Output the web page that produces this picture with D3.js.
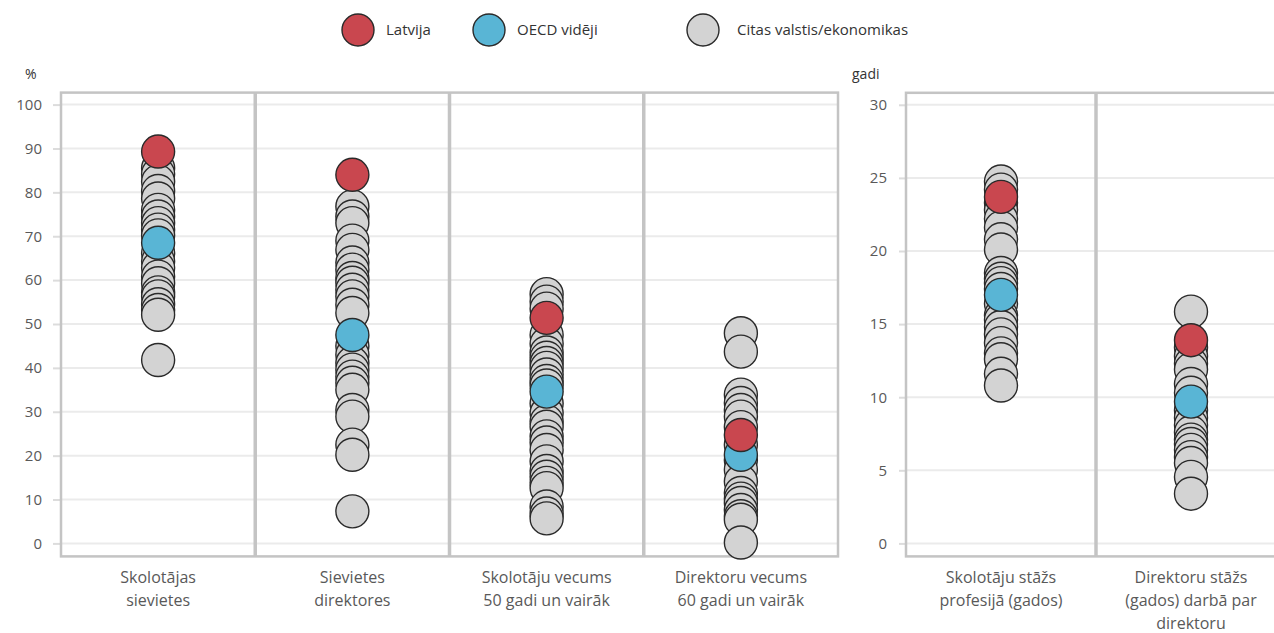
<!DOCTYPE html>
<html>
<head>
<meta charset="utf-8">
<script src="https://cdn.jsdelivr.net/npm/d3@7"></script>
<style>
  html, body { margin: 0; padding: 0; background: #fff; }
  svg { display: block; font-family: "Open Sans", "Noto Sans", sans-serif; }
</style>
</head>
<body>
<svg id="chart" width="1274" height="633"></svg>
<script>
// ---------- DATA ----------
const leftCategories = [
  ["Skolotājas", "sievietes"],
  ["Sievietes", "direktores"],
  ["Skolotāju vecums", "50 gadi un vairāk"],
  ["Direktoru vecums", "60 gadi un vairāk"]
];
const rightCategories = [
  ["Skolotāju stāžs", "profesijā (gados)"],
  ["Direktoru stāžs", "(gados) darbā par", "direktoru"]
];
const leftTicks = [0, 10, 20, 30, 40, 50, 60, 70, 80, 90, 100];
const rightTicks = [0, 5, 10, 15, 20, 25, 30];
const leftUnit = "%";
const rightUnit = "gadi";
const legendLabels = ["Latvija", "OECD vidēji", "Citas valstis/ekonomikas"];

const latviaLeft = [89.3, 84.0, 51.4, 24.7];
const oecdLeft = [68.5, 47.5, 34.6, 20.2];
const latviaRight = [23.7, 13.9];
const oecdRight = [17.0, 9.7];

const othersFemaleTeachers = [85.5, 84.2, 82.5, 80.3, 78.6, 76.0, 74.5, 73.0, 71.5, 70.2, 66.2, 64.3, 62.8, 60.8, 59.3, 57.2, 56.3, 54.5, 53.2, 52.1, 41.8];
const othersFemalePrincipals = [76.8, 74.5, 73.0, 69.0, 66.9, 64.0, 62.4, 60.5, 59.4, 57.8, 56.3, 54.4, 52.5, 45.0, 43.0, 41.1, 39.6, 38.0, 36.6, 35.0, 30.4, 28.9, 22.5, 20.2, 7.3];
const othersTeachers50 = [56.8, 55.1, 53.5, 47.5, 45.5, 43.5, 42.3, 41.1, 40.0, 38.5, 37.0, 36.0, 31.9, 29.7, 27.8, 26.6, 24.4, 23.0, 21.3, 18.7, 16.5, 15.2, 13.8, 12.6, 8.4, 6.8, 5.7];
const othersPrincipals60 = [47.9, 43.7, 33.9, 32.0, 30.4, 28.9, 26.5, 22.5, 19.0, 16.8, 14.1, 11.5, 10.2, 9.2, 7.6, 6.2, 5.4, 0.2];
const othersTeacherExp = [24.75, 24.2, 23.3, 22.8, 22.2, 21.6, 20.8, 20.1, 18.5, 18.1, 17.8, 17.4, 16.4, 15.6, 15.3, 14.8, 14.3, 13.7, 13.0, 12.6, 11.6, 10.8];
const othersPrincipalExp = [15.85, 13.4, 12.8, 12.3, 11.9, 10.9, 10.3, 9.1, 8.6, 8.1, 7.6, 7.1, 6.8, 6.4, 5.9, 5.5, 4.55, 3.4];

const othersLeft = [othersFemaleTeachers, othersFemalePrincipals, othersTeachers50, othersPrincipals60];
const othersRight = [othersTeacherExp, othersPrincipalExp];

// ---------- STYLE ----------
const COL_LV = "#c9474f";
const COL_OECD = "#59b5d5";
const COL_OTHER = "#d3d3d3";
const COL_STROKE = "#2a2a2a";
const COL_FRAME = "#c4c4c4";
const COL_GRID = "#ebebeb";
const COL_TEXT = "#595959";
const R = 16.5;

const svg = d3.select("#chart");

function drawChart(cfg) {
  const g = svg.append("g");
  const y = d3.scaleLinear().domain(cfg.domain).range([cfg.y0, cfg.yTop]);
  const x = d3.scaleBand().domain(cfg.categories.map((d, i) => i)).range([cfg.x0, cfg.x1]).padding(0);
  const frameTop = y(cfg.domain[1]) - 12;
  const frameBottom = y(cfg.domain[0]) + 13;

  // gridlines
  g.append("g").selectAll("line").data(cfg.ticks).join("line")
    .attr("x1", cfg.x0).attr("x2", cfg.x1)
    .attr("y1", d => y(d)).attr("y2", d => y(d))
    .attr("stroke", COL_GRID).attr("stroke-width", 2);

  // axis
  const ax = g.append("g").attr("transform", `translate(${cfg.x0},0)`)
    .call(d3.axisLeft(y).tickValues(cfg.ticks).tickSize(cfg.tickSize).tickPadding(cfg.tickPadding));
  ax.select(".domain").remove();
  ax.selectAll(".tick line").attr("stroke", "#dcdcdc").attr("stroke-width", 2);
  ax.selectAll(".tick text").attr("fill", COL_TEXT).style("font-size", "15px")
    .style("font-family", "'Open Sans', sans-serif");

  // unit label
  g.append("text").attr("x", cfg.unitX).attr("y", 79).text(cfg.unit)
    .attr("fill", "#333").style("font-size", "14px");

  // frame
  g.append("rect").attr("x", cfg.x0).attr("y", frameTop)
    .attr("width", cfg.x1 - cfg.x0).attr("height", frameBottom - frameTop)
    .attr("fill", "none").attr("stroke", COL_FRAME).attr("stroke-width", 2.5);
  // dividers
  g.append("g").selectAll("line").data(cfg.categories.slice(1).map((d, i) => i + 1)).join("line")
    .attr("x1", d => x(d)).attr("x2", d => x(d))
    .attr("y1", frameTop).attr("y2", frameBottom)
    .attr("stroke", COL_FRAME).attr("stroke-width", 3.5);

  // category labels
  const lab = g.append("g").selectAll("text").data(cfg.categories).join("text")
    .attr("x", (d, i) => x(i) + x.bandwidth() / 2)
    .attr("y", 583)
    .attr("text-anchor", "middle")
    .attr("fill", COL_TEXT).style("font-size", "16px");
  lab.selectAll("tspan").data(d => d).join("tspan")
    .attr("x", function () { return d3.select(this.parentNode).attr("x"); })
    .attr("dy", (d, i) => i === 0 ? 0 : 23)
    .text(d => d);

  // points
  const pts = [];
  cfg.categories.forEach((c, i) => {
    cfg.others[i].forEach(v => pts.push({ i, v, c: COL_OTHER }));
  });
  cfg.categories.forEach((c, i) => pts.push({ i, v: cfg.oecd[i], c: COL_OECD }));
  cfg.categories.forEach((c, i) => pts.push({ i, v: cfg.latvia[i], c: COL_LV }));
  g.append("g").selectAll("circle").data(pts).join("circle")
    .attr("cx", d => x(d.i) + x.bandwidth() / 2)
    .attr("cy", d => y(d.v))
    .attr("r", R)
    .attr("fill", d => d.c)
    .attr("stroke", COL_STROKE).attr("stroke-width", 1.4);
}

drawChart({
  categories: leftCategories, domain: [0, 100], ticks: leftTicks,
  y0: 543.4, yTop: 104.6, x0: 61, x1: 838,
  tickSize: 8, tickPadding: 11, unit: leftUnit, unitX: 25,
  latvia: latviaLeft, oecd: oecdLeft, others: othersLeft
});
drawChart({
  categories: rightCategories, domain: [0, 30], ticks: rightTicks,
  y0: 543.4, yTop: 104.8, x0: 906, x1: 1286,
  tickSize: 7, tickPadding: 12, unit: rightUnit, unitX: 852,
  latvia: latviaRight, oecd: oecdRight, others: othersRight
});

// legend
const legendColors = [COL_LV, COL_OECD, COL_OTHER];
const legendX = [358, 489, 703];
const leg = svg.append("g").selectAll("g").data(legendLabels).join("g")
  .attr("transform", (d, i) => `translate(${legendX[i]},30)`);
leg.append("circle").attr("r", 16).attr("fill", (d, i) => legendColors[i])
  .attr("stroke", COL_STROKE).attr("stroke-width", 1.4);
leg.append("text").attr("x", (d, i) => i === 2 ? 34 : 28).attr("y", 5).text(d => d)
  .attr("fill", "#333").style("font-size", "15px");
</script>
</body>
</html>
